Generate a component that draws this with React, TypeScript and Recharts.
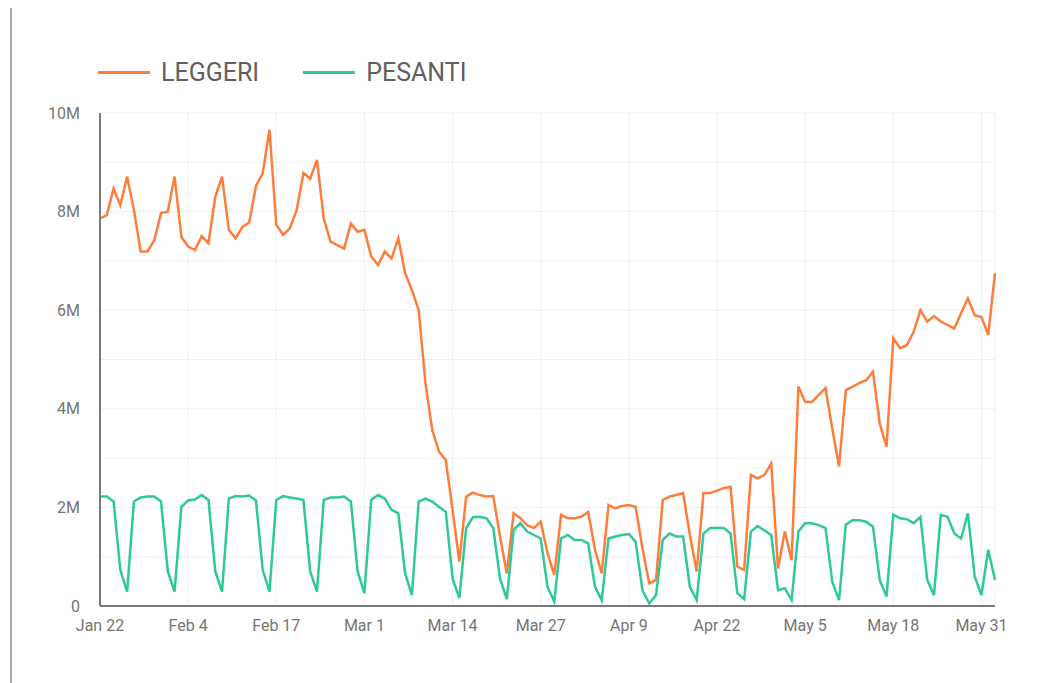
import React from 'react';
import { LineChart, Line, XAxis, YAxis, CartesianGrid, Legend } from 'recharts';

// one point per day, Jan 22 -> Jun 2 (values in millions)
const tickDays = [0, 13, 26, 39, 52, 65, 78, 91, 104, 117, 130];
const tickLabels = ['Jan 22', 'Feb 4', 'Feb 17', 'Mar 1', 'Mar 14', 'Mar 27', 'Apr 9', 'Apr 22', 'May 5', 'May 18', 'May 31'];
const yTicks = [0, 1, 2, 3, 4, 5, 6, 7, 8, 9, 10];

const leggeri = [
  7.86, 7.93, 8.47, 8.13, 8.71, 8.03, 7.19, 7.19, 7.42, 7.97,
  8.0, 8.71, 7.49, 7.29, 7.22, 7.5, 7.36, 8.3, 8.71, 7.63,
  7.46, 7.69, 7.78, 8.52, 8.78, 9.66, 7.73, 7.53, 7.66, 8.03,
  8.78, 8.67, 9.05, 7.86, 7.39, 7.32, 7.25, 7.76, 7.59, 7.63,
  7.09, 6.92, 7.19, 7.05, 7.46, 6.75, 6.41, 6.0, 4.52, 3.57,
  3.13, 2.96, 1.95, 0.9, 2.22, 2.3, 2.25, 2.22, 2.23, 1.41,
  0.66, 1.88, 1.78, 1.64, 1.58, 1.71, 1.07, 0.63, 1.85, 1.78,
  1.78, 1.81, 1.91, 1.14, 0.66, 2.05, 1.98, 2.03, 2.05, 2.01,
  1.17, 0.46, 0.53, 2.15, 2.22, 2.25, 2.29, 1.44, 0.7, 2.29,
  2.29, 2.34, 2.39, 2.42, 0.8, 0.73, 2.66, 2.59, 2.66, 2.89,
  0.76, 1.51, 0.93, 4.45, 4.14, 4.14, 4.28, 4.42, 3.6, 2.83,
  4.38, 4.45, 4.52, 4.58, 4.75, 3.7, 3.23, 5.43, 5.23, 5.29,
  5.56, 6.0, 5.77, 5.88, 5.77, 5.7, 5.63, 5.94, 6.24, 5.9,
  5.86, 5.5, 6.75,
];

const pesanti = [
  2.22, 2.22, 2.12, 0.73, 0.29, 2.12, 2.2, 2.22, 2.22, 2.12,
  0.7, 0.29, 2.01, 2.14, 2.16, 2.25, 2.15, 0.7, 0.29, 2.18,
  2.23, 2.22, 2.24, 2.14, 0.73, 0.29, 2.15, 2.23, 2.2, 2.18,
  2.15, 0.7, 0.29, 2.15, 2.2, 2.2, 2.22, 2.12, 0.7, 0.26,
  2.15, 2.25, 2.18, 1.95, 1.88, 0.66, 0.22, 2.12, 2.18, 2.12,
  2.01, 1.91, 0.56, 0.16, 1.58, 1.8, 1.81, 1.78, 1.58, 0.56,
  0.14, 1.54, 1.68, 1.51, 1.44, 1.37, 0.39, 0.09, 1.37, 1.44,
  1.34, 1.34, 1.27, 0.39, 0.12, 1.37, 1.41, 1.44, 1.46, 1.3,
  0.32, 0.05, 0.22, 1.34, 1.47, 1.41, 1.41, 0.39, 0.12, 1.47,
  1.58, 1.58, 1.58, 1.47, 0.26, 0.14, 1.51, 1.62, 1.53, 1.44,
  0.32, 0.36, 0.12, 1.51, 1.68, 1.68, 1.64, 1.58, 0.49, 0.12,
  1.65, 1.74, 1.74, 1.71, 1.61, 0.53, 0.19, 1.85, 1.78, 1.76,
  1.68, 1.81, 0.53, 0.22, 1.85, 1.81, 1.47, 1.37, 1.88, 0.6,
  0.22, 1.14, 0.53,
];

const chartData = leggeri.map((v, i) => ({ day: i, leggeri: v, pesanti: pesanti[i] }));

const FONT = 'Roboto, "Noto Sans", sans-serif';

const renderLegend = (props: any) => {
  const { payload } = props;
  return (
    <div style={{ display: 'flex', alignItems: 'center', fontFamily: FONT, fontSize: 25, color: '#5f5f5f' }}>
      {payload.map((entry: any) => (
        <div key={entry.value} style={{ display: 'flex', alignItems: 'center', marginRight: 44 }}>
          <span style={{ display: 'inline-block', width: 52, height: 3, background: entry.color, marginRight: 11 }} />
          <span>{entry.value}</span>
        </div>
      ))}
    </div>
  );
};

const fmtY = (v: number) => (v % 2 !== 0 ? '' : v === 0 ? '0' : `${v}M`);
const fmtX = (v: number) => tickLabels[tickDays.indexOf(v)] ?? '';

export default function App() {
  return (
    // frame of the screenshot: left and top edges
    <div
      style={{
        marginTop: -2, marginLeft: 2, width: 1028, height: 677,
        borderLeft: '2px solid #a9a9a9', borderTop: '2px solid #b5b5b5',
        boxSizing: 'border-box',
      }}
    >
      <LineChart width={1016} height={660} data={chartData} margin={{ top: 105, right: 33, left: 0, bottom: 32 }}>
        <CartesianGrid stroke="#efefef" />
        <XAxis
          dataKey="day"
          type="number"
          domain={[0, 132]}
          ticks={tickDays}
          tickFormatter={fmtX}
          tickLine={false}
          tickMargin={8}
          height={30}
          axisLine={{ stroke: '#7a7a7a', strokeWidth: 2 }}
          tick={{ fontSize: 16, fill: '#757575', fontFamily: FONT }}
        />
        <YAxis
          domain={[0, 10]}
          ticks={yTicks}
          tickFormatter={fmtY}
          tickLine={false}
          tickMargin={14}
          width={88}
          axisLine={{ stroke: '#7a7a7a', strokeWidth: 2 }}
          tick={{ fontSize: 16, fill: '#757575', fontFamily: FONT }}
        />
        <Legend
          content={renderLegend}
          verticalAlign="middle"
          align="center"
          wrapperStyle={{ top: 50, left: 86, width: 'auto' }}
        />
        <Line type="linear" dataKey="leggeri" name="LEGGERI" stroke="#ff7d3b" strokeWidth={2.5} dot={false} isAnimationActive={false} />
        <Line type="linear" dataKey="pesanti" name="PESANTI" stroke="#2ec99a" strokeWidth={2.5} dot={false} isAnimationActive={false} />
      </LineChart>
    </div>
  );
}
